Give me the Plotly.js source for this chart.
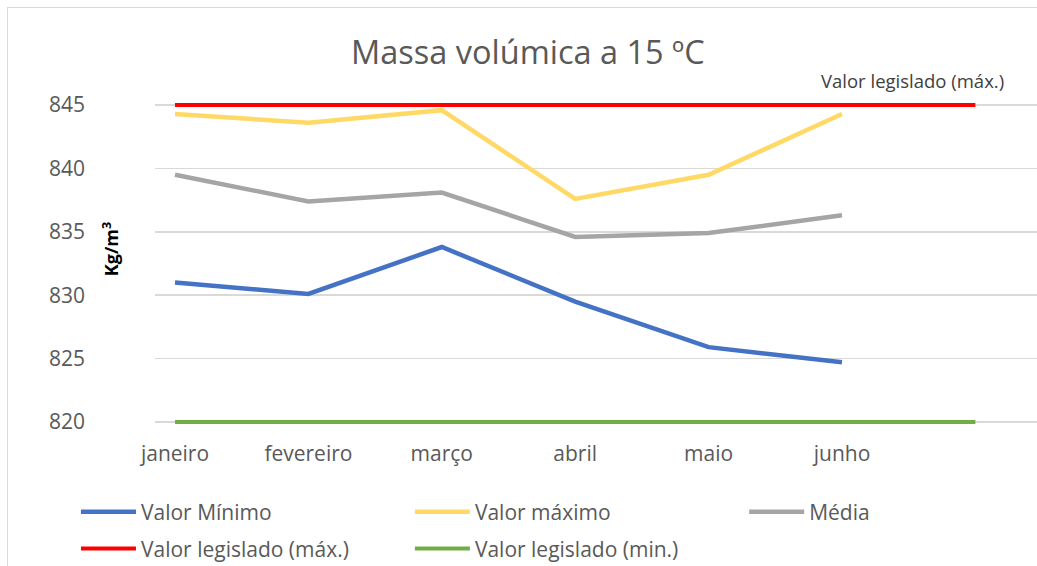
<!DOCTYPE html>
<html>
<head>
<meta charset="utf-8">
<script src="https://cdn.plot.ly/plotly-3.0.1.min.js"></script>
<style>
  html, body { margin: 0; padding: 0; background: #fff; }
  #wrap { position: relative; width: 1037px; height: 566px; overflow: hidden; }
  #chart { width: 1037px; height: 566px; }
  #frame { position: absolute; left: 7px; top: 7px; width: 1100px; height: 600px;
           border-left: 1.5px solid #d9d9d9; border-top: 1.5px solid #d9d9d9; pointer-events: none; }
</style>
</head>
<body>
<div id="wrap">
  <div id="chart"></div>
  <div id="frame"></div>
</div>
<script>
// Data
const months = ['janeiro', 'fevereiro', 'março', 'abril', 'maio', 'junho'];
const valorMinimo = [831.0, 830.1, 833.8, 829.5, 825.9, 824.7];
const valorMaximo = [844.3, 843.6, 844.6, 837.6, 839.5, 844.3];
const media = [839.5, 837.4, 838.1, 834.6, 834.9, 836.3];
// legislated limits span 7 category slots (6 months + one blank slot)
const legisladoMax = [845, 845, 845, 845, 845, 845, 845];
const legisladoMin = [820, 820, 820, 820, 820, 820, 820];
const yTicks = [820, 825, 830, 835, 840, 845];

const idx = months.map((_, i) => i);
const idxLeg = legisladoMax.map((_, i) => i);

const font = '"Open Sans", "Liberation Sans", sans-serif';
const grey = '#595959';

const traces = [
  { x: idx, y: valorMinimo, name: 'Valor Mínimo', mode: 'lines', line: { color: '#4472C4', width: 4.5 }, legend: 'legend' },
  { x: idx, y: valorMaximo, name: 'Valor máximo', mode: 'lines', line: { color: '#FFD966', width: 4.5 }, legend: 'legend2' },
  { x: idx, y: media, name: 'Média', mode: 'lines', line: { color: '#A5A5A5', width: 4.5 }, legend: 'legend3' },
  { x: idxLeg, y: legisladoMax, name: 'Valor legislado (máx.)', mode: 'lines', line: { color: '#FF0000', width: 4 }, legend: 'legend4' },
  { x: idxLeg, y: legisladoMin, name: 'Valor legislado (min.)', mode: 'lines', line: { color: '#70AD47', width: 4 }, legend: 'legend5' }
];

function leg(x, y) {
  return {
    x: x, y: y, orientation: 'h', xanchor: 'left', yanchor: 'middle',
    font: { family: font, size: 21, color: grey }, itemwidth: 55,
    bgcolor: 'rgba(0,0,0,0)', borderwidth: 0
  };
}
const row1 = -0.26, row2 = -0.373;
const col1 = -0.0896, col2 = 0.289, col3 = 0.668;

const layout = {
  width: 1037, height: 566,
  paper_bgcolor: '#fff', plot_bgcolor: '#fff',
  margin: { l: 155, r: 0, t: 100, b: 139, autoexpand: false },
  font: { family: font, color: grey },
  title: { text: 'Massa volúmica a 15 ºC', font: { family: font, size: 32.5, color: grey },
           x: 0.509, xanchor: 'center', y: 0.907, yanchor: 'middle', xref: 'container', yref: 'container' },
  xaxis: {
    range: [-0.15, 6.462], tickvals: idx, ticktext: months,
    showgrid: false, zeroline: false, showline: false, ticks: '',
    tickfont: { family: font, size: 21, color: grey }, ticklabelstandoff: 12
  },
  yaxis: {
    range: [819.6, 845.4], tickvals: yTicks,
    showgrid: true, gridcolor: '#d9d9d9', gridwidth: 1.5, zeroline: false, showline: false, ticks: '',
    tickfont: { family: font, size: 21, color: grey }, ticklabelstandoff: 69
  },
  showlegend: true,
  legend: leg(col1, row1),
  legend2: leg(col2, row1),
  legend3: leg(col3, row1),
  legend4: leg(col1, row2),
  legend5: leg(col2, row2),
  annotations: [
    { text: 'Kg/m<sup>3</sup>', xref: 'paper', yref: 'paper', x: -0.0505, y: 0.545,
      xanchor: 'center', yanchor: 'middle',
      textangle: -90, showarrow: false, font: { family: font, size: 18, color: '#000', weight: 'bold' } },
    { text: 'Valor legislado (máx.)', xref: 'paper', yref: 'paper', x: 0.859, y: 1.0605,
      xanchor: 'center', yanchor: 'middle', showarrow: false, font: { family: font, size: 18.5, color: '#404040' } }
  ]
};

Plotly.newPlot('chart', traces, layout, { displayModeBar: false, staticPlot: true });
</script>
</body>
</html>
